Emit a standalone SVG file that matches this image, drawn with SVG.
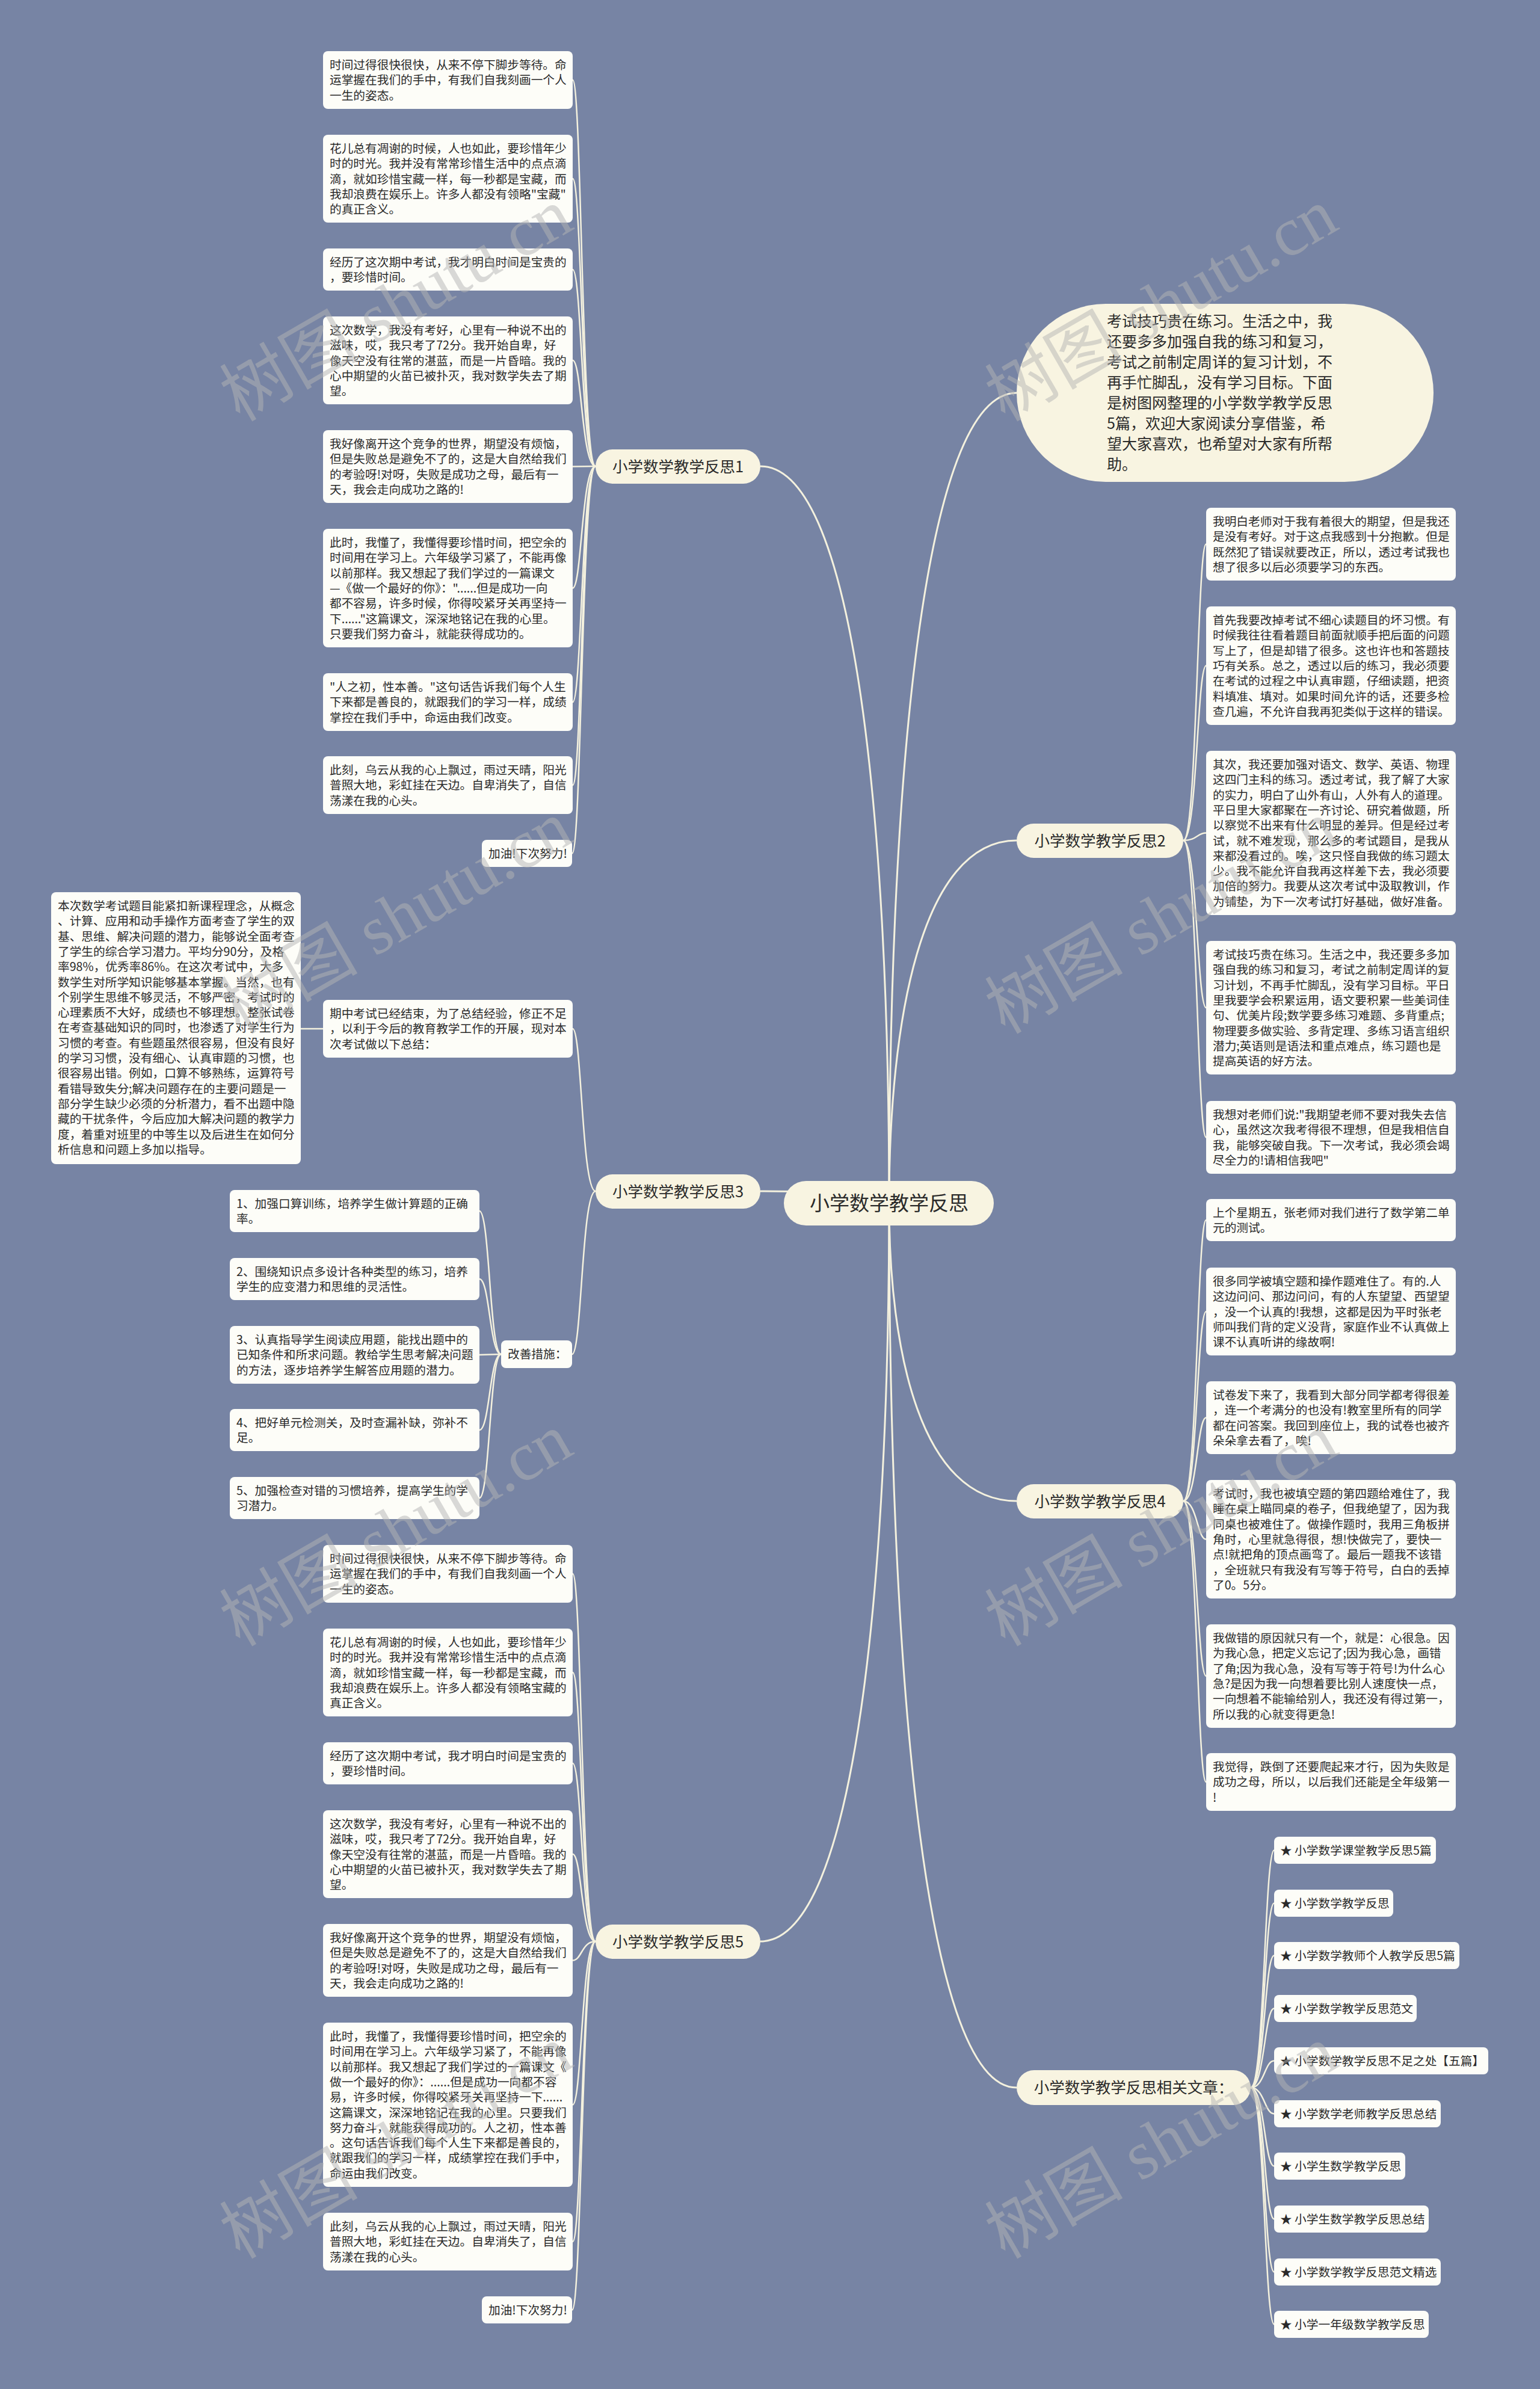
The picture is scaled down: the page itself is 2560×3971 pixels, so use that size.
<svg xmlns="http://www.w3.org/2000/svg" width="2560" height="3971" viewBox="0 0 2560 3971">
<style>
.bg{fill:#7784a4}
.leaf rect{fill:#fdfdf8}
.pill rect{fill:#f8f4e1}
text{font-family:"Noto Sans CJK SC","Noto Sans",sans-serif;fill:#2a2a2a}
.t{font-size:19.7px}
.p{font-size:25.5px;text-anchor:middle}
.c{font-size:33px;text-anchor:middle}
.i{font-size:25px}
#connectors path{fill:none;stroke:#f4f1de;stroke-width:2.5}
#connectors .main path{stroke-width:3}
.wm text{font-family:"Liberation Serif","Noto Sans CJK SC",serif;font-size:115px;fill:#b4b4b4;fill-opacity:.5;text-anchor:middle}
</style>
<rect class="bg" x="0" y="0" width="2560" height="3971"/>

<g id="connectors">
 <g class="main">
  <path d="M1478,2000 C1478,1326 1531,653 1690,653"/>
  <path d="M1478,2000 C1478,1388 1424,775 1264,775"/>
  <path d="M1478,2000 C1478,1698 1531,1397 1690,1397"/>
  <path d="M1478,2000 C1478,1990 1424,1980 1264,1980"/>
  <path d="M1478,2000 C1478,2248 1531,2495 1690,2495"/>
  <path d="M1478,2000 C1478,2735 1531,3470 1690,3470"/>
  <path d="M1478,2000 C1478,2614 1424,3227 1264,3227"/>
 </g>
 <g class="sub">
  <path d="M990,775 C967,775 967,133 952,133"/>
  <path d="M990,775 C967,775 967,297 952,297"/>
  <path d="M990,775 C967,775 967,448 952,448"/>
  <path d="M990,775 C967,775 967,599 952,599"/>
  <path d="M990,775 L952,775.5"/>
  <path d="M990,775 C967,775 967,977.5 952,977.5"/>
  <path d="M990,775 C967,775 967,1167 952,1167"/>
  <path d="M990,775 C967,775 967,1305 952,1305"/>
  <path d="M990,775 C967,775 967,1418.5 951,1418.5"/>

  <path d="M990,1980 C967,1980 967,1710 952,1710"/>
  <path d="M990,1980 C967,1980 967,2251 951,2251"/>
  <path d="M537,1710 L500,1710"/>
  <path d="M833,2251 C814,2251 814,2013 797,2013"/>
  <path d="M833,2251 C814,2251 814,2126 797,2126"/>
  <path d="M833,2251 L797,2252"/>
  <path d="M833,2251 C814,2251 814,2377 797,2377"/>
  <path d="M833,2251 C814,2251 814,2490 797,2490"/>

  <path d="M990,3227 C967,3227 967,2616 952,2616"/>
  <path d="M990,3227 C967,3227 967,2780 952,2780"/>
  <path d="M990,3227 C967,3227 967,2931 952,2931"/>
  <path d="M990,3227 C967,3227 967,3082 952,3082"/>
  <path d="M990,3227 C967,3227 967,3258.5 952,3258.5"/>
  <path d="M990,3227 C967,3227 967,3498.5 952,3498.5"/>
  <path d="M990,3227 C967,3227 967,3726 952,3726"/>
  <path d="M990,3227 C967,3227 967,3839.5 951,3839.5"/>

  <path d="M1967,1397 C1990,1397 1990,904.5 2005,904.5"/>
  <path d="M1967,1397 C1990,1397 1990,1106.5 2005,1106.5"/>
  <path d="M1967,1397 C1990,1397 1990,1384.5 2005,1384.5"/>
  <path d="M1967,1397 C1990,1397 1990,1675 2005,1675"/>
  <path d="M1967,1397 C1990,1397 1990,1890.5 2005,1890.5"/>

  <path d="M1967,2495 C1990,2495 1990,2028 2005,2028"/>
  <path d="M1967,2495 C1990,2495 1990,2180 2005,2180"/>
  <path d="M1967,2495 C1990,2495 1990,2356.5 2005,2356.5"/>
  <path d="M1967,2495 C1990,2495 1990,2558.5 2005,2558.5"/>
  <path d="M1967,2495 C1990,2495 1990,2786 2005,2786"/>
  <path d="M1967,2495 C1990,2495 1990,2962 2005,2962"/>

  <path d="M2079,3470 C2102,3470 2102,3075.5 2118,3075.5"/>
  <path d="M2079,3470 C2102,3470 2102,3163.5 2118,3163.5"/>
  <path d="M2079,3470 C2102,3470 2102,3250.5 2118,3250.5"/>
  <path d="M2079,3470 C2102,3470 2102,3338.5 2118,3338.5"/>
  <path d="M2079,3470 C2102,3470 2102,3425.5 2118,3425.5"/>
  <path d="M2079,3470 C2102,3470 2102,3513.5 2118,3513.5"/>
  <path d="M2079,3470 C2102,3470 2102,3600.5 2118,3600.5"/>
  <path d="M2079,3470 C2102,3470 2102,3688.5 2118,3688.5"/>
  <path d="M2079,3470 C2102,3470 2102,3776.5 2118,3776.5"/>
  <path d="M2079,3470 C2102,3470 2102,3863.5 2118,3863.5"/>
 </g>
</g>

<g id="n-root" class="pill"><rect x="1303" y="1963" width="349" height="74" rx="37"/><text class="c" x="1478" y="2012">小学数学教学反思</text></g>

<g id="n-intro" class="pill"><rect x="1690" y="505" width="693" height="296" rx="148"/>
<text class="i"><tspan x="1840" y="542.5">考试技巧贵在练习。生活之中，我</tspan><tspan x="1840" y="576.5">还要多多加强自我的练习和复习，</tspan><tspan x="1840" y="610.5">考试之前制定周详的复习计划，不</tspan><tspan x="1840" y="644.5">再手忙脚乱，没有学习目标。下面</tspan><tspan x="1840" y="678.5">是树图网整理的小学数学教学反思</tspan><tspan x="1840" y="712.5">5篇，欢迎大家阅读分享借鉴，希</tspan><tspan x="1840" y="746.5">望大家喜欢，也希望对大家有所帮</tspan><tspan x="1840" y="780.5">助。</tspan></text></g>

<g id="n-b1" class="pill"><rect x="990" y="747" width="274" height="57" rx="28.5"/><text class="p" x="1127" y="784.5">小学数学教学反思1</text></g>
<g id="n-b2" class="pill"><rect x="1690" y="1369" width="277" height="57" rx="28.5"/><text class="p" x="1828.5" y="1406.5">小学数学教学反思2</text></g>
<g id="n-b3" class="pill"><rect x="990" y="1952" width="274" height="57" rx="28.5"/><text class="p" x="1127" y="1989.5">小学数学教学反思3</text></g>
<g id="n-b4" class="pill"><rect x="1690" y="2467" width="277" height="57" rx="28.5"/><text class="p" x="1828.5" y="2504.5">小学数学教学反思4</text></g>
<g id="n-b5" class="pill"><rect x="990" y="3199" width="274" height="57" rx="28.5"/><text class="p" x="1127" y="3236.5">小学数学教学反思5</text></g>
<g id="n-rel" class="pill"><rect x="1690" y="3441" width="389" height="58" rx="29"/><text class="p" x="1884.5" y="3479">小学数学教学反思相关文章：</text></g>

<g id="n-l1a" class="leaf"><rect x="537" y="85" width="415" height="96" rx="8"/><text class="t"><tspan x="548" y="115">时间过得很快很快，从来不停下脚步等待。命</tspan><tspan x="548" y="140.3">运掌握在我们的手中，有我们自我刻画一个人</tspan><tspan x="548" y="165.6">一生的姿态。</tspan></text></g>
<g id="n-l1b" class="leaf"><rect x="537" y="224" width="415" height="146" rx="8"/><text class="t"><tspan x="548" y="254">花儿总有凋谢的时候，人也如此，要珍惜年少</tspan><tspan x="548" y="279.3">时的时光。我并没有常常珍惜生活中的点点滴</tspan><tspan x="548" y="304.6">滴，就如珍惜宝藏一样，每一秒都是宝藏，而</tspan><tspan x="548" y="329.9">我却浪费在娱乐上。许多人都没有领略"宝藏"</tspan><tspan x="548" y="355.2">的真正含义。</tspan></text></g>
<g id="n-l1c" class="leaf"><rect x="537" y="413" width="415" height="70" rx="8"/><text class="t"><tspan x="548" y="443">经历了这次期中考试，我才明白时间是宝贵的</tspan><tspan x="548" y="468.3">，要珍惜时间。</tspan></text></g>
<g id="n-l1d" class="leaf"><rect x="537" y="526" width="415" height="146" rx="8"/><text class="t"><tspan x="548" y="556">这次数学，我没有考好，心里有一种说不出的</tspan><tspan x="548" y="581.3">滋味，哎，我只考了72分。我开始自卑，好</tspan><tspan x="548" y="606.6">像天空没有往常的湛蓝，而是一片昏暗。我的</tspan><tspan x="548" y="631.9">心中期望的火苗已被扑灭，我对数学失去了期</tspan><tspan x="548" y="657.2">望。</tspan></text></g>
<g id="n-l1e" class="leaf"><rect x="537" y="715" width="415" height="121" rx="8"/><text class="t"><tspan x="548" y="745">我好像离开这个竞争的世界，期望没有烦恼，</tspan><tspan x="548" y="770.3">但是失败总是避免不了的，这是大自然给我们</tspan><tspan x="548" y="795.6">的考验呀!对呀，失败是成功之母，最后有一</tspan><tspan x="548" y="820.9">天，我会走向成功之路的!</tspan></text></g>
<g id="n-l1f" class="leaf"><rect x="537" y="879" width="415" height="197" rx="8"/><text class="t"><tspan x="548" y="909">此时，我懂了，我懂得要珍惜时间，把空余的</tspan><tspan x="548" y="934.3">时间用在学习上。六年级学习紧了，不能再像</tspan><tspan x="548" y="959.6">以前那样。我又想起了我们学过的一篇课文</tspan><tspan x="548" y="984.9">—《做一个最好的你》："......但是成功一向</tspan><tspan x="548" y="1010.2">都不容易，许多时候，你得咬紧牙关再坚持一</tspan><tspan x="548" y="1035.5">下......"这篇课文，深深地铭记在我的心里。</tspan><tspan x="548" y="1060.8">只要我们努力奋斗，就能获得成功的。</tspan></text></g>
<g id="n-l1g" class="leaf"><rect x="537" y="1119" width="415" height="96" rx="8"/><text class="t"><tspan x="548" y="1149">"人之初，性本善。"这句话告诉我们每个人生</tspan><tspan x="548" y="1174.3">下来都是善良的，就跟我们的学习一样，成绩</tspan><tspan x="548" y="1199.6">掌控在我们手中，命运由我们改变。</tspan></text></g>
<g id="n-l1h" class="leaf"><rect x="537" y="1257" width="415" height="96" rx="8"/><text class="t"><tspan x="548" y="1287">此刻，乌云从我的心上飘过，雨过天晴，阳光</tspan><tspan x="548" y="1312.3">普照大地，彩虹挂在天边。自卑消失了，自信</tspan><tspan x="548" y="1337.6">荡漾在我的心头。</tspan></text></g>
<g id="n-l1i" class="leaf"><rect x="801" y="1396" width="150" height="45" rx="8"/><text class="t" x="812" y="1426">加油!下次努力!</text></g>

<g id="n-l3aa" class="leaf"><rect x="85" y="1483" width="415" height="452" rx="8"/><text class="t"><tspan x="96" y="1513">本次数学考试题目能紧扣新课程理念，从概念</tspan><tspan x="96" y="1538.3">、计算、应用和动手操作方面考查了学生的双</tspan><tspan x="96" y="1563.6">基、思维、解决问题的潜力，能够说全面考查</tspan><tspan x="96" y="1588.9">了学生的综合学习潜力。平均分90分，及格</tspan><tspan x="96" y="1614.2">率98%，优秀率86%。在这次考试中，大多</tspan><tspan x="96" y="1639.5">数学生对所学知识能够基本掌握。当然，也有</tspan><tspan x="96" y="1664.8">个别学生思维不够灵活，不够严密，考试时的</tspan><tspan x="96" y="1690.1">心理素质不大好，成绩也不够理想。整张试卷</tspan><tspan x="96" y="1715.4">在考查基础知识的同时，也渗透了对学生行为</tspan><tspan x="96" y="1740.7">习惯的考查。有些题虽然很容易，但没有良好</tspan><tspan x="96" y="1766">的学习习惯，没有细心、认真审题的习惯，也</tspan><tspan x="96" y="1791.3">很容易出错。例如，口算不够熟练，运算符号</tspan><tspan x="96" y="1816.6">看错导致失分;解决问题存在的主要问题是一</tspan><tspan x="96" y="1841.9">部分学生缺少必须的分析潜力，看不出题中隐</tspan><tspan x="96" y="1867.2">藏的干扰条件，今后应加大解决问题的教学力</tspan><tspan x="96" y="1892.5">度，着重对班里的中等生以及后进生在如何分</tspan><tspan x="96" y="1917.8">析信息和问题上多加以指导。</tspan></text></g>
<g id="n-l3a" class="leaf"><rect x="537" y="1662" width="415" height="96" rx="8"/><text class="t"><tspan x="548" y="1692">期中考试已经结束，为了总结经验，修正不足</tspan><tspan x="548" y="1717.3">，以利于今后的教育教学工作的开展，现对本</tspan><tspan x="548" y="1742.6">次考试做以下总结：</tspan></text></g>
<g id="n-l3b" class="leaf"><rect x="833" y="2228" width="118" height="46" rx="8"/><text class="t" x="844" y="2258">改善措施：</text></g>
<g id="n-l3b1" class="leaf"><rect x="382" y="1978" width="415" height="70" rx="8"/><text class="t"><tspan x="393" y="2008">1、加强口算训练，培养学生做计算题的正确</tspan><tspan x="393" y="2033.3">率。</tspan></text></g>
<g id="n-l3b2" class="leaf"><rect x="382" y="2091" width="415" height="70" rx="8"/><text class="t"><tspan x="393" y="2121">2、围绕知识点多设计各种类型的练习，培养</tspan><tspan x="393" y="2146.3">学生的应变潜力和思维的灵活性。</tspan></text></g>
<g id="n-l3b3" class="leaf"><rect x="382" y="2204" width="415" height="96" rx="8"/><text class="t"><tspan x="393" y="2234">3、认真指导学生阅读应用题，能找出题中的</tspan><tspan x="393" y="2259.3">已知条件和所求问题。教给学生思考解决问题</tspan><tspan x="393" y="2284.6">的方法，逐步培养学生解答应用题的潜力。</tspan></text></g>
<g id="n-l3b4" class="leaf"><rect x="382" y="2342" width="415" height="70" rx="8"/><text class="t"><tspan x="393" y="2372">4、把好单元检测关，及时查漏补缺，弥补不</tspan><tspan x="393" y="2397.3">足。</tspan></text></g>
<g id="n-l3b5" class="leaf"><rect x="382" y="2455" width="415" height="70" rx="8"/><text class="t"><tspan x="393" y="2485">5、加强检查对错的习惯培养，提高学生的学</tspan><tspan x="393" y="2510.3">习潜力。</tspan></text></g>

<g id="n-l5a" class="leaf"><rect x="537" y="2568" width="415" height="96" rx="8"/><text class="t"><tspan x="548" y="2598">时间过得很快很快，从来不停下脚步等待。命</tspan><tspan x="548" y="2623.3">运掌握在我们的手中，有我们自我刻画一个人</tspan><tspan x="548" y="2648.6">一生的姿态。</tspan></text></g>
<g id="n-l5b" class="leaf"><rect x="537" y="2707" width="415" height="146" rx="8"/><text class="t"><tspan x="548" y="2737">花儿总有凋谢的时候，人也如此，要珍惜年少</tspan><tspan x="548" y="2762.3">时的时光。我并没有常常珍惜生活中的点点滴</tspan><tspan x="548" y="2787.6">滴，就如珍惜宝藏一样，每一秒都是宝藏，而</tspan><tspan x="548" y="2812.9">我却浪费在娱乐上。许多人都没有领略宝藏的</tspan><tspan x="548" y="2838.2">真正含义。</tspan></text></g>
<g id="n-l5c" class="leaf"><rect x="537" y="2896" width="415" height="70" rx="8"/><text class="t"><tspan x="548" y="2926">经历了这次期中考试，我才明白时间是宝贵的</tspan><tspan x="548" y="2951.3">，要珍惜时间。</tspan></text></g>
<g id="n-l5d" class="leaf"><rect x="537" y="3009" width="415" height="146" rx="8"/><text class="t"><tspan x="548" y="3039">这次数学，我没有考好，心里有一种说不出的</tspan><tspan x="548" y="3064.3">滋味，哎，我只考了72分。我开始自卑，好</tspan><tspan x="548" y="3089.6">像天空没有往常的湛蓝，而是一片昏暗。我的</tspan><tspan x="548" y="3114.9">心中期望的火苗已被扑灭，我对数学失去了期</tspan><tspan x="548" y="3140.2">望。</tspan></text></g>
<g id="n-l5e" class="leaf"><rect x="537" y="3198" width="415" height="121" rx="8"/><text class="t"><tspan x="548" y="3228">我好像离开这个竞争的世界，期望没有烦恼，</tspan><tspan x="548" y="3253.3">但是失败总是避免不了的，这是大自然给我们</tspan><tspan x="548" y="3278.6">的考验呀!对呀，失败是成功之母，最后有一</tspan><tspan x="548" y="3303.9">天，我会走向成功之路的!</tspan></text></g>
<g id="n-l5f" class="leaf"><rect x="537" y="3362" width="415" height="273" rx="8"/><text class="t"><tspan x="548" y="3392">此时，我懂了，我懂得要珍惜时间，把空余的</tspan><tspan x="548" y="3417.3">时间用在学习上。六年级学习紧了，不能再像</tspan><tspan x="548" y="3442.6">以前那样。我又想起了我们学过的一篇课文《</tspan><tspan x="548" y="3467.9">做一个最好的你》：......但是成功一向都不容</tspan><tspan x="548" y="3493.2">易，许多时候，你得咬紧牙关再坚持一下......</tspan><tspan x="548" y="3518.5">这篇课文，深深地铭记在我的心里。只要我们</tspan><tspan x="548" y="3543.8">努力奋斗，就能获得成功的。人之初，性本善</tspan><tspan x="548" y="3569.1">。这句话告诉我们每个人生下来都是善良的，</tspan><tspan x="548" y="3594.4">就跟我们的学习一样，成绩掌控在我们手中，</tspan><tspan x="548" y="3619.7">命运由我们改变。</tspan></text></g>
<g id="n-l5g" class="leaf"><rect x="537" y="3678" width="415" height="96" rx="8"/><text class="t"><tspan x="548" y="3708">此刻，乌云从我的心上飘过，雨过天晴，阳光</tspan><tspan x="548" y="3733.3">普照大地，彩虹挂在天边。自卑消失了，自信</tspan><tspan x="548" y="3758.6">荡漾在我的心头。</tspan></text></g>
<g id="n-l5h" class="leaf"><rect x="801" y="3817" width="150" height="45" rx="8"/><text class="t" x="812" y="3847">加油!下次努力!</text></g>

<g id="n-r2a" class="leaf"><rect x="2005" y="844" width="415" height="121" rx="8"/><text class="t"><tspan x="2016" y="874">我明白老师对于我有着很大的期望，但是我还</tspan><tspan x="2016" y="899.3">是没有考好。对于这点我感到十分抱歉。但是</tspan><tspan x="2016" y="924.6">既然犯了错误就要改正，所以，透过考试我也</tspan><tspan x="2016" y="949.9">想了很多以后必须要学习的东西。</tspan></text></g>
<g id="n-r2b" class="leaf"><rect x="2005" y="1008" width="415" height="197" rx="8"/><text class="t"><tspan x="2016" y="1038">首先我要改掉考试不细心读题目的坏习惯。有</tspan><tspan x="2016" y="1063.3">时候我往往看着题目前面就顺手把后面的问题</tspan><tspan x="2016" y="1088.6">写上了，但是却错了很多。这也许也和答题技</tspan><tspan x="2016" y="1113.9">巧有关系。总之，透过以后的练习，我必须要</tspan><tspan x="2016" y="1139.2">在考试的过程之中认真审题，仔细读题，把资</tspan><tspan x="2016" y="1164.5">料填准、填对。如果时间允许的话，还要多检</tspan><tspan x="2016" y="1189.8">查几遍，不允许自我再犯类似于这样的错误。</tspan></text></g>
<g id="n-r2c" class="leaf"><rect x="2005" y="1248" width="415" height="273" rx="8"/><text class="t"><tspan x="2016" y="1278">其次，我还要加强对语文、数学、英语、物理</tspan><tspan x="2016" y="1303.3">这四门主科的练习。透过考试，我了解了大家</tspan><tspan x="2016" y="1328.6">的实力，明白了山外有山，人外有人的道理。</tspan><tspan x="2016" y="1353.9">平日里大家都聚在一齐讨论、研究着做题，所</tspan><tspan x="2016" y="1379.2">以察觉不出来有什么明显的差异。但是经过考</tspan><tspan x="2016" y="1404.5">试，就不难发现，那么多的考试题目，是我从</tspan><tspan x="2016" y="1429.8">来都没看过的。唉，这只怪自我做的练习题太</tspan><tspan x="2016" y="1455.1">少。我不能允许自我再这样差下去，我必须要</tspan><tspan x="2016" y="1480.4">加倍的努力。我要从这次考试中汲取教训，作</tspan><tspan x="2016" y="1505.7">为铺垫，为下一次考试打好基础，做好准备。</tspan></text></g>
<g id="n-r2d" class="leaf"><rect x="2005" y="1564" width="415" height="222" rx="8"/><text class="t"><tspan x="2016" y="1594">考试技巧贵在练习。生活之中，我还要多多加</tspan><tspan x="2016" y="1619.3">强自我的练习和复习，考试之前制定周详的复</tspan><tspan x="2016" y="1644.6">习计划，不再手忙脚乱，没有学习目标。平日</tspan><tspan x="2016" y="1669.9">里我要学会积累运用，语文要积累一些美词佳</tspan><tspan x="2016" y="1695.2">句、优美片段;数学要多练习难题、多背重点;</tspan><tspan x="2016" y="1720.5">物理要多做实验、多背定理、多练习语言组织</tspan><tspan x="2016" y="1745.8">潜力;英语则是语法和重点难点，练习题也是</tspan><tspan x="2016" y="1771.1">提高英语的好方法。</tspan></text></g>
<g id="n-r2e" class="leaf"><rect x="2005" y="1830" width="415" height="121" rx="8"/><text class="t"><tspan x="2016" y="1860">我想对老师们说:"我期望老师不要对我失去信</tspan><tspan x="2016" y="1885.3">心，虽然这次我考得很不理想，但是我相信自</tspan><tspan x="2016" y="1910.6">我，能够突破自我。下一次考试，我必须会竭</tspan><tspan x="2016" y="1935.9">尽全力的!请相信我吧"</tspan></text></g>

<g id="n-r4a" class="leaf"><rect x="2005" y="1993" width="415" height="70" rx="8"/><text class="t"><tspan x="2016" y="2023">上个星期五，张老师对我们进行了数学第二单</tspan><tspan x="2016" y="2048.3">元的测试。</tspan></text></g>
<g id="n-r4b" class="leaf"><rect x="2005" y="2107" width="415" height="146" rx="8"/><text class="t"><tspan x="2016" y="2137">很多同学被填空题和操作题难住了。有的.人</tspan><tspan x="2016" y="2162.3">这边问问、那边问问，有的人东望望、西望望</tspan><tspan x="2016" y="2187.6">，没一个认真的!我想，这都是因为平时张老</tspan><tspan x="2016" y="2212.9">师叫我们背的定义没背，家庭作业不认真做上</tspan><tspan x="2016" y="2238.2">课不认真听讲的缘故啊!</tspan></text></g>
<g id="n-r4c" class="leaf"><rect x="2005" y="2296" width="415" height="121" rx="8"/><text class="t"><tspan x="2016" y="2326">试卷发下来了，我看到大部分同学都考得很差</tspan><tspan x="2016" y="2351.3">，连一个考满分的也没有!教室里所有的同学</tspan><tspan x="2016" y="2376.6">都在问答案。我回到座位上，我的试卷也被齐</tspan><tspan x="2016" y="2401.9">朵朵拿去看了，唉!</tspan></text></g>
<g id="n-r4d" class="leaf"><rect x="2005" y="2460" width="415" height="197" rx="8"/><text class="t"><tspan x="2016" y="2490">考试时，我也被填空题的第四题给难住了，我</tspan><tspan x="2016" y="2515.3">睡在桌上瞄同桌的卷子，但我绝望了，因为我</tspan><tspan x="2016" y="2540.6">同桌也被难住了。做操作题时，我用三角板拼</tspan><tspan x="2016" y="2565.9">角时，心里就急得很，想!快做完了，要快一</tspan><tspan x="2016" y="2591.2">点!就把角的顶点画弯了。最后一题我不该错</tspan><tspan x="2016" y="2616.5">，全班就只有我没有写等于符号，白白的丢掉</tspan><tspan x="2016" y="2641.8">了0。5分。</tspan></text></g>
<g id="n-r4e" class="leaf"><rect x="2005" y="2700" width="415" height="172" rx="8"/><text class="t"><tspan x="2016" y="2730">我做错的原因就只有一个，就是：心很急。因</tspan><tspan x="2016" y="2755.3">为我心急，把定义忘记了;因为我心急，画错</tspan><tspan x="2016" y="2780.6">了角;因为我心急，没有写等于符号!为什么心</tspan><tspan x="2016" y="2805.9">急?是因为我一向想着要比别人速度快一点，</tspan><tspan x="2016" y="2831.2">一向想着不能输给别人，我还没有得过第一，</tspan><tspan x="2016" y="2856.5">所以我的心就变得更急!</tspan></text></g>
<g id="n-r4f" class="leaf"><rect x="2005" y="2914" width="415" height="96" rx="8"/><text class="t"><tspan x="2016" y="2944">我觉得，跌倒了还要爬起来才行，因为失败是</tspan><tspan x="2016" y="2969.3">成功之母，所以，以后我们还能是全年级第一</tspan><tspan x="2016" y="2994.6">!</tspan></text></g>

<g id="n-rel1" class="leaf"><rect x="2118" y="3053" width="269" height="45" rx="8"/><text class="t" x="2128" y="3083">★ 小学数学课堂教学反思5篇</text></g>
<g id="n-rel2" class="leaf"><rect x="2118" y="3141" width="198" height="45" rx="8"/><text class="t" x="2128" y="3171">★ 小学数学教学反思</text></g>
<g id="n-rel3" class="leaf"><rect x="2118" y="3228" width="308" height="45" rx="8"/><text class="t" x="2128" y="3258">★ 小学数学教师个人教学反思5篇</text></g>
<g id="n-rel4" class="leaf"><rect x="2118" y="3316" width="237" height="45" rx="8"/><text class="t" x="2128" y="3346">★ 小学数学教学反思范文</text></g>
<g id="n-rel5" class="leaf"><rect x="2118" y="3403" width="356" height="45" rx="8"/><text class="t" x="2128" y="3433">★ 小学数学教学反思不足之处【五篇】</text></g>
<g id="n-rel6" class="leaf"><rect x="2118" y="3491" width="277" height="45" rx="8"/><text class="t" x="2128" y="3521">★ 小学数学老师教学反思总结</text></g>
<g id="n-rel7" class="leaf"><rect x="2118" y="3578" width="218" height="45" rx="8"/><text class="t" x="2128" y="3608">★ 小学生数学教学反思</text></g>
<g id="n-rel8" class="leaf"><rect x="2118" y="3666" width="257" height="45" rx="8"/><text class="t" x="2128" y="3696">★ 小学生数学教学反思总结</text></g>
<g id="n-rel9" class="leaf"><rect x="2118" y="3754" width="277" height="45" rx="8"/><text class="t" x="2128" y="3784">★ 小学数学教学反思范文精选</text></g>
<g id="n-rel10" class="leaf"><rect x="2118" y="3841" width="257" height="45" rx="8"/><text class="t" x="2128" y="3871">★ 小学一年级数学教学反思</text></g>

<g id="watermarks" class="wm">
 <text transform="translate(658,506) rotate(-30)" x="0" y="40">树图 shutu.cn</text>
 <text transform="translate(1930,506) rotate(-30)" x="0" y="40">树图 shutu.cn</text>
 <text transform="translate(658,1524) rotate(-30)" x="0" y="40">树图 shutu.cn</text>
 <text transform="translate(1930,1524) rotate(-30)" x="0" y="40">树图 shutu.cn</text>
 <text transform="translate(658,2542) rotate(-30)" x="0" y="40">树图 shutu.cn</text>
 <text transform="translate(1930,2542) rotate(-30)" x="0" y="40">树图 shutu.cn</text>
 <text transform="translate(658,3560) rotate(-30)" x="0" y="40">树图 shutu.cn</text>
 <text transform="translate(1930,3560) rotate(-30)" x="0" y="40">树图 shutu.cn</text>
</g>
</svg>
